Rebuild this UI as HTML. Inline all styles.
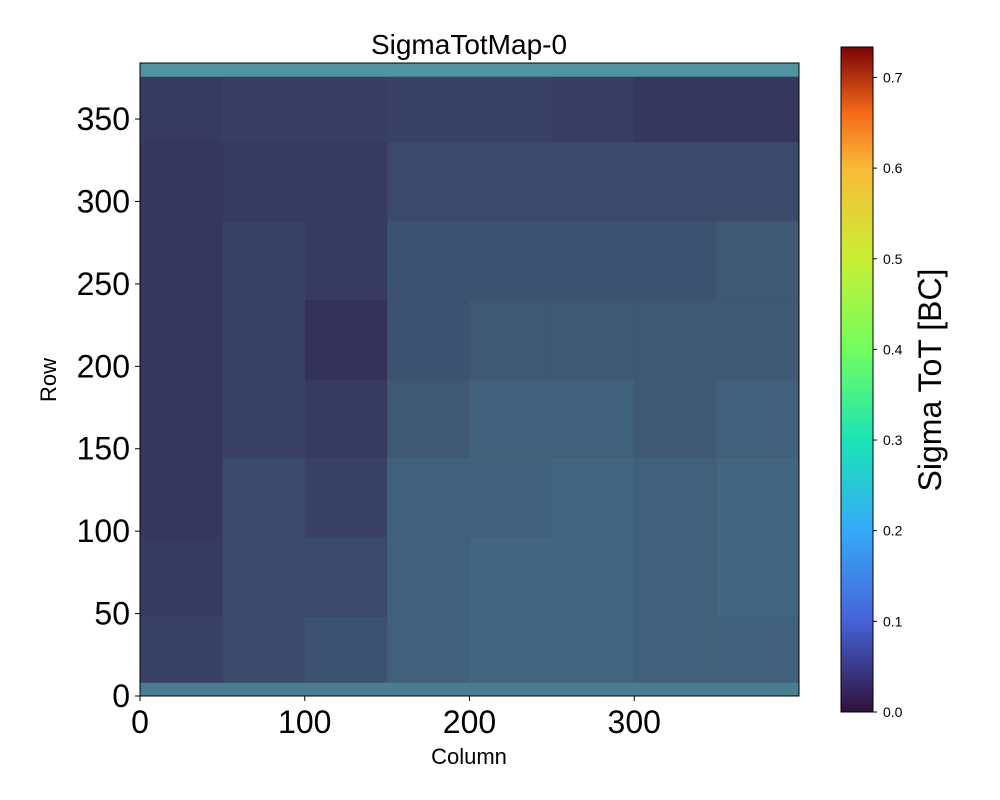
<!DOCTYPE html>
<html><head><meta charset="utf-8"><style>
body{margin:0;background:#fff;}
svg{display:block;font-family:"Liberation Sans","DejaVu Sans",sans-serif;}
</style></head><body>
<svg id="chart" width="1000" height="800">
<defs>
<linearGradient id="turbo" x1="0" y1="1" x2="0" y2="0">
<stop offset="0" stop-color="#30123b"/><stop offset="0.136" stop-color="#4662d7"/>
<stop offset="0.273" stop-color="#36aaf9"/><stop offset="0.409" stop-color="#1ae4b6"/>
<stop offset="0.545" stop-color="#72fe5e"/><stop offset="0.682" stop-color="#c8ef34"/>
<stop offset="0.818" stop-color="#faba39"/><stop offset="0.9" stop-color="#f66b19"/>
<stop offset="1" stop-color="#7a0403"/>
</linearGradient>
</defs>
<g id="cells"></g>
<rect x="140" y="63" width="659" height="633" fill="none" stroke="#000" stroke-width="1"/>
<g id="axes"></g>
<text x="469" y="54" font-size="28" text-anchor="middle">SigmaTotMap-0</text>
<text x="469" y="764" font-size="22" text-anchor="middle">Column</text>
<text transform="translate(56,380) rotate(-90)" font-size="22" text-anchor="middle">Row</text>
<rect x="841" y="47" width="32" height="665" fill="url(#turbo)" stroke="#000" stroke-width="1"/>
<g id="cbticks"></g>
<text transform="translate(941,380) rotate(-90)" font-size="32" text-anchor="middle">Sigma ToT [BC]</text>
</svg>
<script>
const colBins=[0,50,100,150,200,250,300,350];
const rowBins=[336,288,240,192,144,96,48,0];
const brightFrac=[
[0.25,0.28,0.28,0.3,0.3,0.28,0.22,0.22],
[0.22,0.25,0.25,0.35,0.35,0.35,0.35,0.35],
[0.22,0.3,0.25,0.4,0.4,0.4,0.4,0.45],
[0.22,0.3,0.18,0.4,0.45,0.45,0.45,0.45],
[0.22,0.3,0.25,0.45,0.5,0.5,0.45,0.5],
[0.22,0.35,0.3,0.5,0.5,0.55,0.5,0.55],
[0.25,0.35,0.35,0.5,0.55,0.55,0.5,0.55],
[0.3,0.35,0.4,0.5,0.55,0.55,0.5,0.5]];
const edgeRows=[376,0];
const edgeFrac=[0.85,0.7];
const xTicks=[0,100,200,300];
const yTicks=[0,50,100,150,200,250,300,350];
const cbTicks=[0.0,0.1,0.2,0.3,0.4,0.5,0.6,0.7];
const NS="http://www.w3.org/2000/svg";
const x=c=>140+c*659/400, y=r=>696-r*633/384, cy=v=>712-v*665/0.7336;
const dark=[45,22,70], bright=[85,170,175];
const mix=f=>'rgb('+dark.map((d,i)=>Math.round(d+(bright[i]-d)*f)).join(',')+')';
const cells=document.getElementById('cells');
function cell(c0,c1,r0,r1,f){const e=document.createElementNS(NS,'rect');
e.setAttribute('x',x(c0));e.setAttribute('y',y(r1));e.setAttribute('width',x(c1)-x(c0)+0.5);e.setAttribute('height',y(r0)-y(r1)+0.5);e.setAttribute('fill',mix(f));


cells.appendChild(e);}
rowBins.forEach((r,i)=>colBins.forEach((c,j)=>cell(c,c+50,r,r+48,brightFrac[i][j])));
edgeRows.forEach((r,i)=>cell(0,400,r,r+8,edgeFrac[i]));
const axes=document.getElementById('axes');
function t(px,py,s,txt,anchor,name){const e=document.createElementNS(NS,'text');e.setAttribute('x',px);e.setAttribute('y',py);e.setAttribute('font-size',s);e.setAttribute('text-anchor',anchor);e.textContent=txt;


return e;}
function l(x1,y1,x2,y2,g){const e=document.createElementNS(NS,'line');e.setAttribute('x1',x1);e.setAttribute('y1',y1);e.setAttribute('x2',x2);e.setAttribute('y2',y2);e.setAttribute('stroke','#000');


g.appendChild(e);}
xTicks.forEach(v=>{l(x(v),696,x(v),701,axes);axes.appendChild(t(x(v),733,32,v,'middle','x-tick-label'));});
yTicks.forEach(v=>{l(135,y(v),140,y(v),axes);axes.appendChild(t(130,y(v)+11,32,v,'end','y-tick-label'));});
const cb=document.getElementById('cbticks');
cbTicks.forEach(v=>{l(873,cy(v),877,cy(v),cb);cb.appendChild(t(883,cy(v)+5,14,v.toFixed(1),'start','colorbar-tick-label'));});
</script>
</body></html>
